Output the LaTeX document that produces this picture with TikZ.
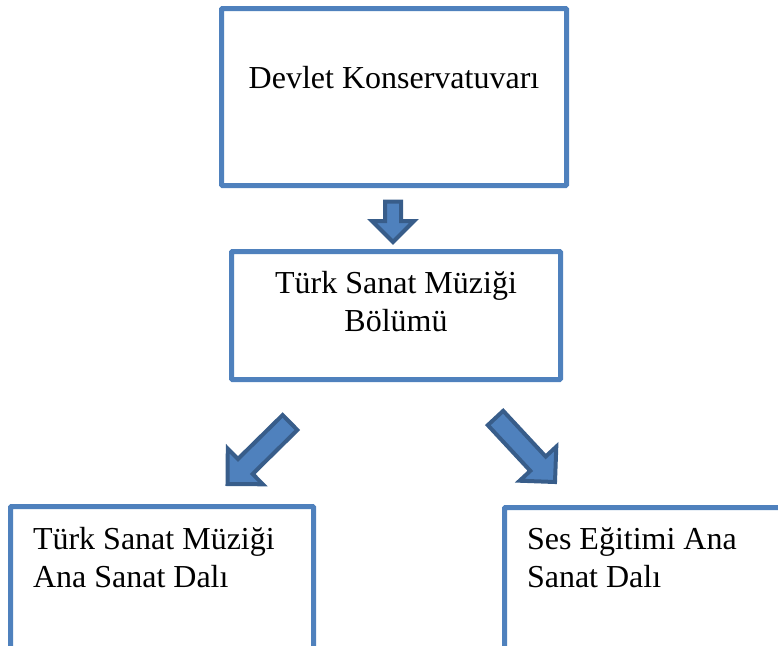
\documentclass[tikz,border=0pt]{standalone}
\usepackage{fontspec}
\setmainfont{Liberation Serif}
\usetikzlibrary{calc}
\definecolor{boxblue}{RGB}{79,129,189}
\definecolor{arrowedge}{RGB}{56,93,138}
\tikzset{
  orgbox/.style={draw=boxblue, line width=5pt, rounded corners=1pt, fill=white, inner sep=0pt, outer sep=0pt},
  lbl/.style={inner sep=0pt, outer sep=0pt, font=\fontsize{32}{37.5}\selectfont, text=black},
  blockarr/.style={fill=boxblue, draw=arrowedge, line width=4pt, line join=miter}
}
% #1 tail, #2 tip, #3 head-base coordinate name, #4 half shaft width, #5 half head width, #6 head length
\newcommand{\blockarrow}[6]{%
  \coordinate (#3) at ($(#2)!#6!(#1)$);
  \path[blockarr] ($(#1)!#4!90:(#2)$) -- ($(#3)!#4!-90:(#1)$) -- ($(#3)!#5!-90:(#1)$) -- (#2)
     -- ($(#3)!#5!90:(#1)$) -- ($(#3)!#4!90:(#1)$) -- ($(#1)!#4!-90:(#2)$) -- cycle;
}
\begin{document}
\begin{tikzpicture}[x=1pt, y=-1pt]
  \useasboundingbox (0,0) rectangle (778,645);
  \clip (0,0) rectangle (778,645);

  \node[orgbox, minimum width=345pt, minimum height=177pt] (top) at (394,97) {};
  \node[lbl, anchor=base] (toptext) at (394,88) {Devlet Konservatuvarı};

  \node[orgbox, minimum width=329pt, minimum height=128pt] (mid) at (396,315.5) {};
  \node[lbl, anchor=base, align=center] (midtext) at (396,331) {Türk Sanat Müziği\\Bölümü};

  \node[orgbox, minimum width=303pt, minimum height=213.5pt] (left) at (162,613.25) {};
  \node[lbl, anchor=base west, align=left] (lefttext) at (33,587) {Türk Sanat Müziği\\Ana Sanat Dalı};

  \node[orgbox, minimum width=345.5pt, minimum height=212.5pt] (right) at (677.25,613.75) {};
  \node[lbl, anchor=base west, align=left] (righttext) at (527,587) {Ses Eğitimi Ana\\Sanat Dalı};

  \coordinate (a1t) at (393,201.5);
  \coordinate (a1p) at (393,242);
  \blockarrow{a1t}{a1p}{a1h}{8pt}{21pt}{21pt}

  \coordinate (a2t) at (290,422.5);
  \coordinate (a2p) at (227.5,484);
  \blockarrow{a2t}{a2p}{a2h}{10.5pt}{25pt}{25pt}

  \coordinate (a3t) at (495.5,418);
  \coordinate (a3p) at (555,482);
  \blockarrow{a3t}{a3p}{a3h}{10.5pt}{25pt}{25pt}
\end{tikzpicture}
\end{document}
